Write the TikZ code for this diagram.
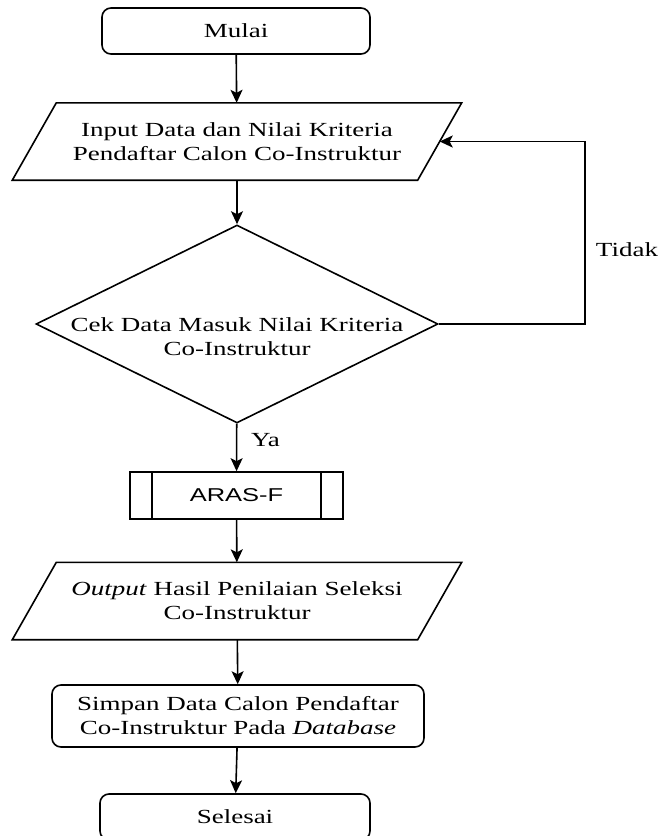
\documentclass[tikz,border=0pt]{standalone}
\usepackage{fontspec}
\setmainfont{Liberation Serif}[FakeStretch=1.35]
\newfontfamily\arasfont{Liberation Sans}[FakeStretch=1.37]
\usetikzlibrary{shapes.geometric,arrows.meta}

\begin{document}
\begin{tikzpicture}[x=1pt,y=-1pt,
  every node/.style={inner sep=0pt, align=center},
  txt/.style={font=\fontsize{20}{24}\selectfont},
  shapeline/.style={draw, line width=1.6pt},
  terminal/.style={shapeline, txt, rounded corners=9pt, minimum width=268pt, minimum height=46pt},
  procbox/.style={shapeline, txt, rounded corners=9pt, minimum width=372pt, minimum height=62pt},
  iobox/.style={txt, minimum width=405pt, minimum height=77pt},
  iooutline/.style={shapeline, line join=miter},
  decision/.style={shapeline, diamond, aspect=2, inner sep=2pt, minimum width=402pt, minimum height=198pt},
  subproc/.style={shapeline, minimum width=213pt, minimum height=47pt},
  conn/.style={line width=1.6pt, -{Stealth[length=13pt,width=12pt,inset=3pt]}}
]
\useasboundingbox (0,0) rectangle (660,836);

% start
\node[terminal] (mulai) at (236,31) {Mulai};

% data input (parallelogram round the node, 22pt slant on each side)
\node[iobox] (input) at (237,141.5)
  {Input Data dan Nilai Kriteria\\Pendaftar Calon Co-Instruktur};
\draw[iooutline]
  ([xshift=-22pt]input.south west) -- ([xshift=22pt]input.north west)
  -- ([xshift=22pt]input.north east) -- ([xshift=-22pt]input.south east) -- cycle;

% decision
\node[decision] (cek) at (237,324) {};
\node[txt] (cektext) at (237,337) {Cek Data Masuk Nilai Kriteria\\Co-Instruktur};

% predefined process
\node[subproc] (aras) at (236.5,495.5) {};
\node[font=\arasfont\fontsize{18.6}{24}\selectfont] (arastext) at (236.5,495.5) {ARAS-F};
\draw[line width=1.6pt] ([xshift=23pt]aras.north west) -- ([xshift=23pt]aras.south west)
  ([xshift=-23pt]aras.north east) -- ([xshift=-23pt]aras.south east);

% output (same parallelogram)
\node[iobox] (output) at (237,601)
  {\textit{Output} Hasil Penilaian Seleksi\\Co-Instruktur};
\draw[iooutline]
  ([xshift=-22pt]output.south west) -- ([xshift=22pt]output.north west)
  -- ([xshift=22pt]output.north east) -- ([xshift=-22pt]output.south east) -- cycle;

% storing and end
\node[procbox] (simpan) at (238,716)
  {Simpan Data Calon Pendaftar\\Co-Instruktur Pada \textit{Database}};
\node[terminal, minimum width=270pt] (selesai) at (235,817) {Selesai};

% connectors
\coordinate (loop) at (585,324);
\draw[conn] (mulai) -- (input);
\draw[conn] (input) -- (cek);
\draw[conn] (cek) -- (aras);
\draw[conn] (aras) -- (output);
\draw[conn] (output) -- (simpan);
\draw[conn] (simpan) -- (selesai);
\draw[conn] (cek.east) -- (loop) |- (input.east);

% branch labels
\node[txt] (tidak) at (627,250) {Tidak};
\node[txt, anchor=west] (ya) at (251,440) {Ya};
\end{tikzpicture}
\end{document}
